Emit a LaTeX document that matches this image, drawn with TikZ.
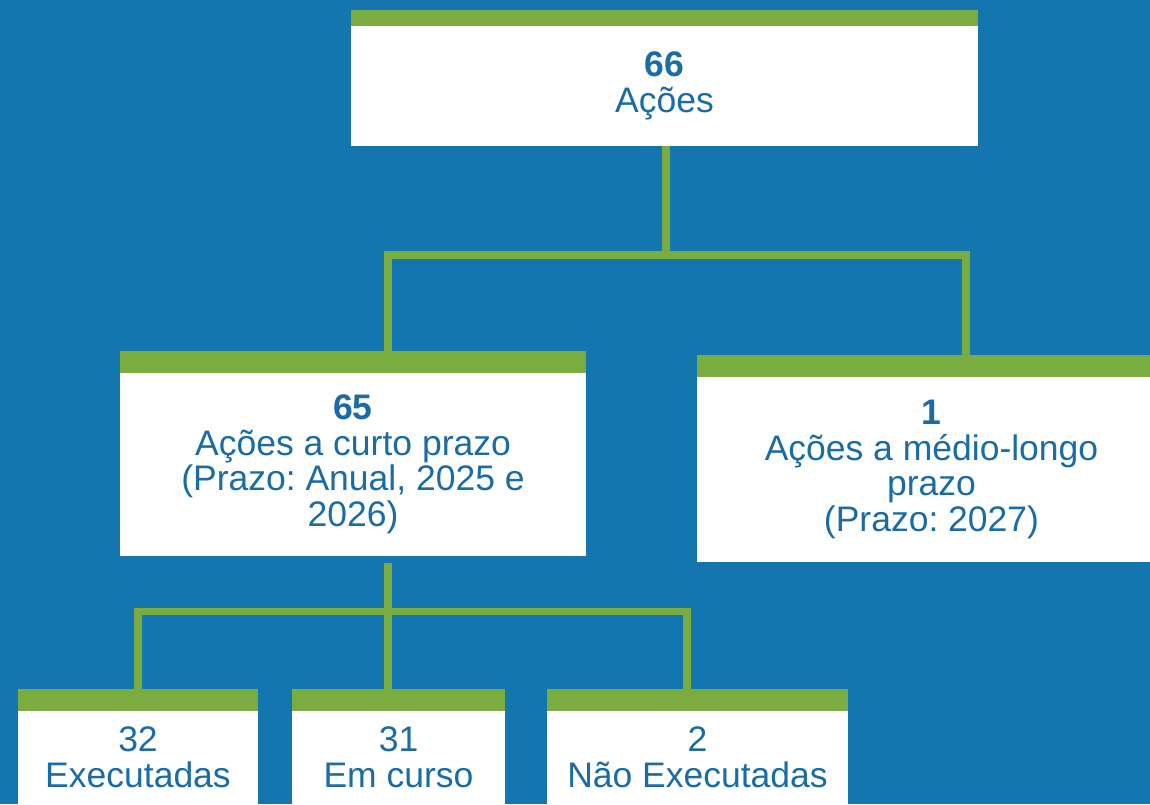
\documentclass[tikz,border=0pt]{standalone}
\usepackage{fontspec}
\setmainfont{Liberation Sans}
\usetikzlibrary{calc}
\definecolor{pblue}{HTML}{1376AE}
\definecolor{pgreen}{HTML}{7BAC3F}
\definecolor{ptext}{HTML}{1A6CA7}
\frenchspacing

\begin{document}
\begin{tikzpicture}[x=1pt, y=-1pt,
  card/.style={fill=white, inner sep=0pt, align=center, text=ptext, font=\fontsize{35.5}{35.5}\selectfont},
  link/.style={draw=pgreen, line width=7.5pt}]
 \useasboundingbox (0,0) rectangle (1150,804);
 \clip (0,0) rectangle (1150,804);
 \fill[pblue] (0,0) rectangle (1150,804);
 % boxes
 \node[card, minimum width=627, minimum height=120] (a) at (664.5,86) {\textbf{66}\\Ações};
 \node[card, minimum width=466, minimum height=183] (b) at (353,464.5) {\textbf{65}\\Ações a curto prazo\\(Prazo: Anual, 2025 e\\2026)};
 \node[card, minimum width=469, minimum height=185] (c) at (931.5,469.5) {\textbf{1}\\Ações a médio-longo\\prazo\\(Prazo: 2027)};
 \node[card, minimum width=240, minimum height=93] (d) at (138,757.5) {32\\Executadas};
 \node[card, minimum width=213, minimum height=93] (e) at (398.5,757.5) {31\\Em curso};
 \node[card, minimum width=301, minimum height=93] (f) at (697.5,757.5) {2\\Não Executadas};
 % green bars on top
 \fill[pgreen] (a.north west) rectangle ([yshift=16pt]a.north east);
 \foreach \n in {b,c,d,e,f} \fill[pgreen] (\n.north west) rectangle ([yshift=22pt]\n.north east);
 % connectors
 \coordinate (j1) at (666,255);
 \coordinate (j2) at (388,611.5);
 \draw[link] ([xshift=1.5pt]a.south) -- (j1);
 \draw[link] ([xshift=35pt,yshift=22pt]b.north) |- (j1) -| ([xshift=34.5pt,yshift=22pt]c.north);
 \draw[link] ([shift={(35,7)}]b.south) -- (j2);
 \draw[link] ([yshift=22pt]d.north) |- (j2) -| ([xshift=-10.5pt,yshift=22pt]f.north);
 \draw[link] (j2) -- ([xshift=-10.5pt,yshift=22pt]e.north);
\end{tikzpicture}
\end{document}
